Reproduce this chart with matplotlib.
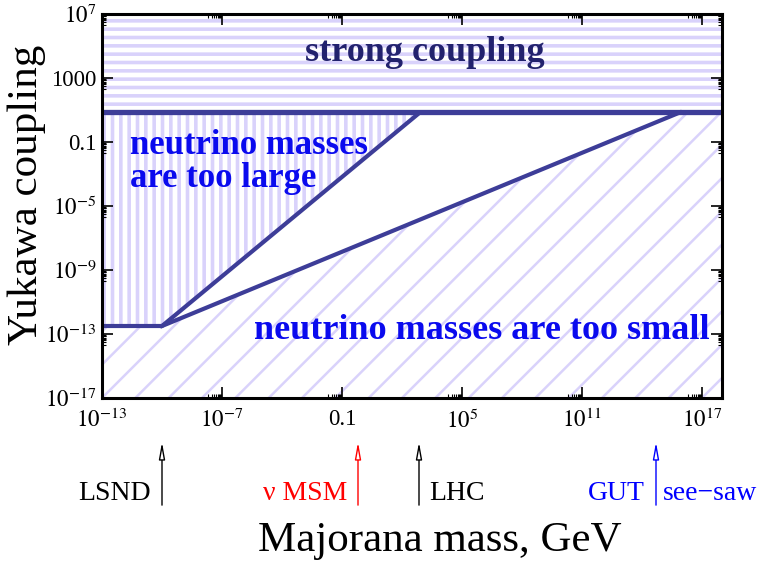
import matplotlib.pyplot as plt
import numpy as np

# ----------------------------------------------
#    Yukawa coupling vs Majorana mass, 区域图
# ----------------------------------------------

plt.rcParams['font.family'] = ['Liberation Serif', 'DejaVu Serif']
plt.rcParams['mathtext.fontset'] = 'stix'

# boundaries (GeV, Yukawa)
y_strong = 10 ** 0.85
large_m = [1e-13, 1e-10, 10 ** 2.9]
large_y = [10 ** -12.5, 10 ** -12.5, 10 ** 0.85]
small_m = [1e-13, 1e-10, 10 ** 15.9, 1e18]
small_y = [10 ** -12.5, 10 ** -12.5, 10 ** 0.85, 10 ** 0.85]

# marks under the axis
mark_names = ['LSND', r'ν MSM', 'LHC', 'GUT']
mark_masses = [1e-10, 10 ** -0.2, 10 ** 2.85, 10 ** 14.7]
mark_colors = ['black', 'red', 'black', 'blue']
mark_side = ['left', 'left', 'right', 'left']

x_ticks = [1e-13, 1e-7, 1e-1, 1e5, 1e11, 1e17]
x_labels = [r'$10^{-13}$', r'$10^{-7}$', '0.1', r'$10^{5}$', r'$10^{11}$', r'$10^{17}$']
y_ticks = [1e-17, 1e-13, 1e-9, 1e-5, 1e-1, 1e3, 1e7]
y_labels = [r'$10^{-17}$', r'$10^{-13}$', r'$10^{-9}$', r'$10^{-5}$', '0.1', '1000', r'$10^{7}$']

hatch_col = '#d9d2fb'
line_col = '#3d3d98'

fig = plt.figure(figsize=(7.66, 5.61), dpi=100)
ax = fig.add_axes([102 / 766, 1 - 398 / 561, 620 / 766, 384 / 561])
ax.set_xscale('log')
ax.set_yscale('log')


def hatched(x, y1, y2, hatch, hlw):
    pc = ax.fill_between(x, y1, y2, facecolor='none', edgecolor=hatch_col,
                         hatch=hatch, linewidth=0)
    if hasattr(pc, 'set_hatch_linewidth'):
        pc.set_hatch_linewidth(hlw)
    return pc


plt.rcParams['hatch.linewidth'] = 2.6
hatched([1e-13, 1e18], y_strong, 1e7, '--', 2.6)
hatched(large_m, large_y, y_strong, '||', 2.6)
plt.rcParams['hatch.linewidth'] = 1.8
hatched(small_m, 1e-17, small_y, '/', 1.8)

ax.plot(large_m, large_y, color=line_col, lw=3.0, solid_capstyle='butt')
ax.plot(small_m[1:3], small_y[1:3], color=line_col, lw=3.0)
ax.axhline(y_strong, color=line_col, lw=3.8)

ax.text(0.521, 0.901, 'strong coupling', transform=ax.transAxes, ha='center', va='center',
        fontsize=26, fontweight='bold', color='#22226e')
ax.text(0.045, 0.615, 'neutrino masses\nare too large', transform=ax.transAxes, ha='left',
        va='center', fontsize=25, fontweight='bold', color='#0a0aee', linespacing=1.0)
ax.text(0.613, 0.177, 'neutrino masses are too small', transform=ax.transAxes, ha='center',
        va='center', fontsize=26, fontweight='bold', color='#0a0aee')

# ticks
ax.set_xticks(x_ticks)
ax.set_xticklabels(x_labels)
ax.set_yticks(y_ticks)
ax.set_yticklabels(y_labels)
ax.set_xticks([k * t / 10 for t in x_ticks for k in range(2, 10)], minor=True)
ax.set_yticks([k * t / 10 for t in y_ticks for k in range(2, 10)], minor=True)
ax.set_xticklabels([], minor=True)
ax.set_yticklabels([], minor=True)
ax.set_xlim(1e-13, 1e18)
ax.set_ylim(1e-17, 1e7)
ax.tick_params(which='both', direction='in', top=True, right=True, labelsize=16.5, width=1.2)
ax.tick_params(which='major', length=8)
ax.tick_params(which='minor', length=3, width=0.8)
ax.tick_params(axis='x', pad=8)
ax.tick_params(axis='y', pad=4)
for s in ax.spines.values():
    s.set_linewidth(2.2)

# arrows under the axis
tr = ax.get_xaxis_transform()
for name, m, c, side in zip(mark_names, mark_masses, mark_colors, mark_side):
    ax.annotate('', xy=(m, -0.115), xytext=(m, -0.279), xycoords=tr, textcoords=tr,
                annotation_clip=False,
                arrowprops=dict(arrowstyle='-|>,head_length=1.0,head_width=0.18',
                                fc='white', ec=c, lw=1.0, shrinkA=0, shrinkB=0))
    if side == 'left':
        ax.annotate(name, xy=(m, -0.25), xycoords=tr, xytext=(-8, 0),
                    textcoords='offset points', ha='right', va='center', fontsize=20,
                    color=c, annotation_clip=False)
    else:
        ax.annotate(name, xy=(m, -0.25), xycoords=tr, xytext=(7, 0),
                    textcoords='offset points', ha='left', va='center', fontsize=20,
                    color=c, annotation_clip=False)
ax.annotate('see\u2212saw', xy=(mark_masses[3], -0.25), xycoords=tr, xytext=(5, 0),
            textcoords='offset points', ha='left', va='center', fontsize=20,
            color='blue', annotation_clip=False)

fig.text(440 / 766, 1 - 541 / 561, 'Majorana mass, GeV', ha='center', va='center', fontsize=31)
fig.text(27 / 766, 1 - 195 / 561, 'Yukawa coupling', ha='center', va='center', fontsize=31,
         rotation=90)

plt.savefig('out.png', dpi=100)
